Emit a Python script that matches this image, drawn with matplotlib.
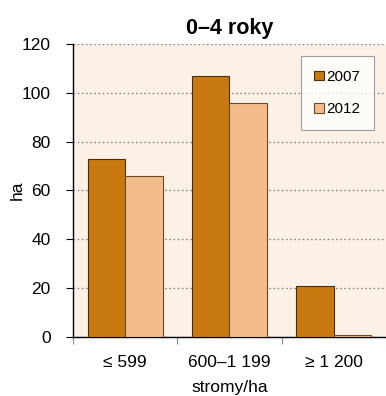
import matplotlib
matplotlib.use('Agg')
import matplotlib.pyplot as plt
import numpy as np

plt.rcParams['font.family'] = ['Liberation Sans', 'DejaVu Sans']

categories = ['≤ 599', '600–1 199', '≥ 1 200']
values_2007 = [73, 107, 21]
values_2012 = [66, 96, 1]
yticks = [0, 20, 40, 60, 80, 100, 120]

fig = plt.figure(figsize=(3.86, 3.96), dpi=100)
ax = fig.add_axes([0.189, 0.149, 0.811, 0.74])
ax.set_facecolor('#FCF1E6')

x = np.arange(len(categories))
w = 0.36
ax.bar(x - w / 2, values_2007, w, color='#C87A10', edgecolor='#4A2E0A', linewidth=0.8, label='2007', zorder=3)
ax.bar(x + w / 2, values_2012, w, color='#F4BC8A', edgecolor='#6B4A2A', linewidth=0.8, label='2012', zorder=3)

ax.set_xlim(-0.5, 2.5)
ax.set_ylim(0, 120)
ax.set_yticks(yticks)
ax.set_xticks([-0.5, 0.5, 1.5, 2.5])
ax.set_xticklabels([])
ax.set_xticks(x, minor=True)
ax.set_xticklabels(categories, minor=True)
ax.tick_params(axis='x', which='minor', length=0, pad=13, labelsize=12.5)
ax.tick_params(axis='x', which='major', length=5, direction='out', color='#888888')
ax.tick_params(axis='y', length=5, labelsize=12.5, pad=11)

ax.yaxis.grid(True, linestyle=(0, (1.2, 1.8)), color='#8A8A8A', linewidth=1.0, zorder=0)
ax.spines['top'].set_visible(False)
ax.spines['right'].set_visible(False)
ax.spines['left'].set_linewidth(1.0)
ax.spines['bottom'].set_linewidth(1.0)

ax.set_title('0–4 roky', fontsize=15.5, fontweight='bold', pad=7)
ax.set_ylabel('ha', fontsize=12.5, labelpad=-2)
ax.set_xlabel('stromy/ha', fontsize=12.5, labelpad=7)

leg = ax.legend(loc='upper right', bbox_to_anchor=(0.985, 0.985), frameon=True, fancybox=False,
                edgecolor='#888888', fontsize=11, handlelength=0.6, handleheight=0.6,
                handletextpad=0.15, labelspacing=1.2, borderpad=0.9)
leg.get_frame().set_linewidth(0.8)

fig.savefig('out.png', dpi=100)
